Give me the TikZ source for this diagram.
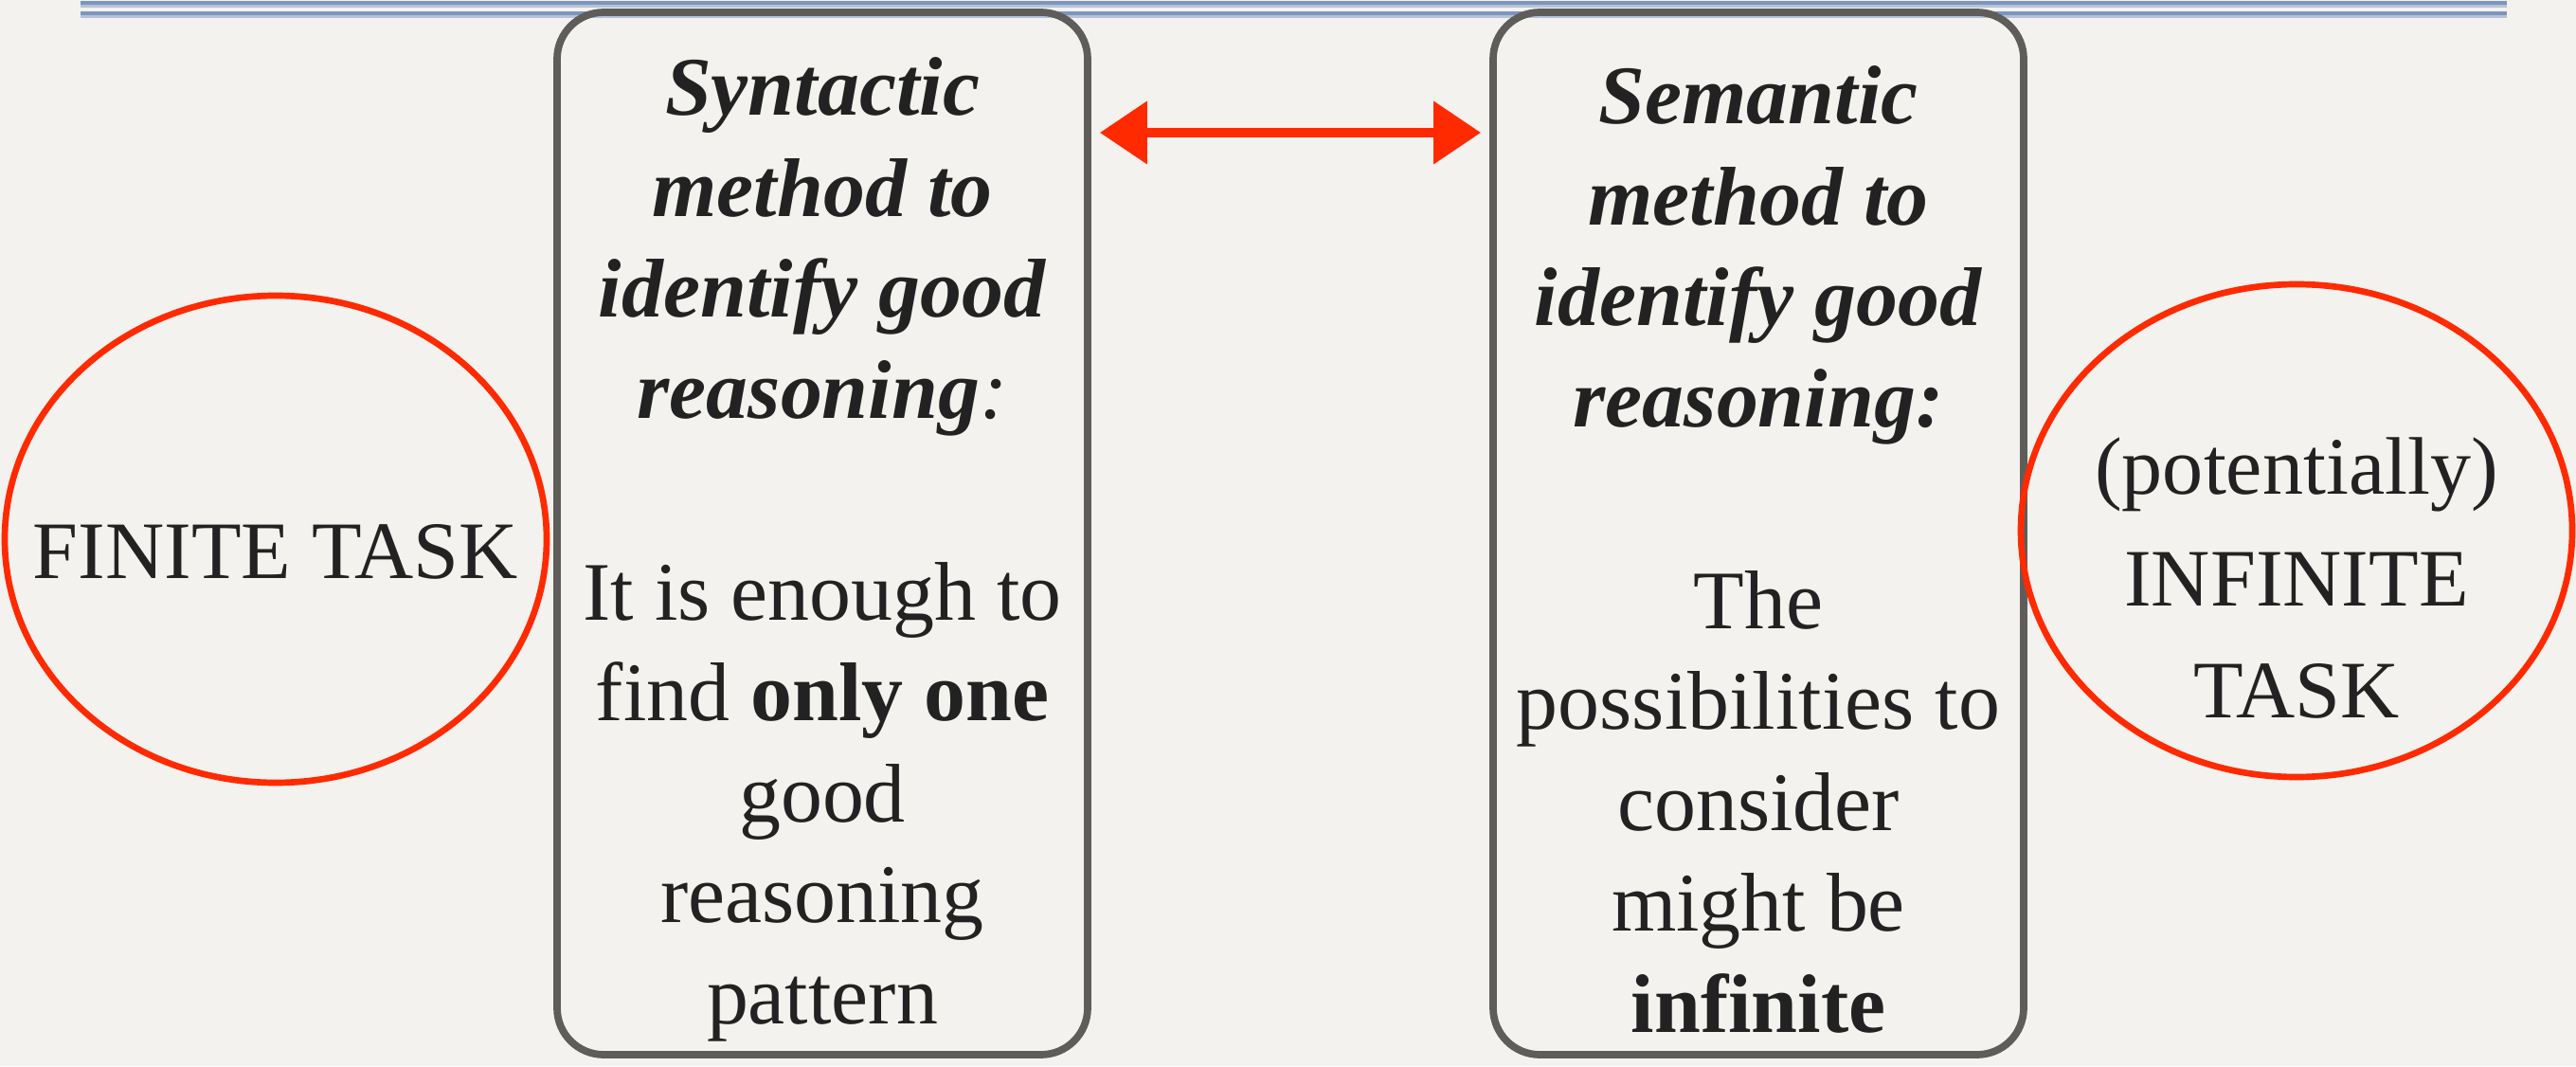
\documentclass[tikz,border=0pt]{standalone}
\usepackage{fontspec}
\setmainfont{Liberation Serif}
\usepackage{tikz}
\usetikzlibrary{arrows.meta,positioning,shapes.geometric}
\definecolor{Paper}{HTML}{F4F2EE}
\definecolor{RuleBlue}{HTML}{7D95BC}
\definecolor{RuleSoft}{HTML}{B4C2D8}
\definecolor{BoxGray}{HTML}{5E5D5A}
\definecolor{PenRed}{HTML}{FF2A00}
\definecolor{Ink}{HTML}{222222}

\begin{document}
\begin{tikzpicture}[
        font=\fontsize{25}{30.3}\selectfont,
        text=Ink,
        methodbox/.style={
            draw=BoxGray,
            line width=2.2pt,
            rounded corners=14pt,
            minimum width=5.6cm,
            minimum height=11cm,
            align=center,
            inner sep=0pt
        },
        taskring/.style={
            ellipse,
            draw=PenRed,
            line width=1.9pt,
            inner sep=0pt
        },
        tasktext/.style={align=center, font=\fontsize{24.5}{33.5}\selectfont},
        linkarr/.style={{Triangle[length=5mm,width=6.4mm]}-{Triangle[length=5mm,width=6.4mm]}, line width=3pt, draw=PenRed}
    ]
        \fill[Paper] (0,0) rectangle (27.19,11.25);
        \useasboundingbox (0,0) rectangle (27.19,11.25);

        % header rules
        \draw[RuleBlue, line width=1.3pt] (0.85,11.22) -- (26.46,11.22);
        \draw[RuleSoft, line width=0.6pt] (0.85,11.185) -- (26.46,11.185);
        \draw[RuleBlue, line width=1.3pt] (0.85,11.11) -- (26.46,11.11);
        \draw[RuleSoft, line width=0.6pt] (0.85,11.075) -- (26.46,11.075);

        \node[methodbox] (syn) at (8.68,5.62) {%
            \rule{0pt}{0.95cm}\textbf{\textit{Syntactic}}\\
            \textbf{\textit{method to}}\\
            \textbf{\textit{identify good}}\\
            \textbf{\textit{reasoning}}\textit{:}\\[30.3pt]
            It is enough to\\
            find \textbf{only one}\\
            good\\
            reasoning\\
            pattern};
        \node[methodbox] (sem) at (18.56,5.62) {%
            \rule{0pt}{0.95cm}\textbf{\textit{Semantic}}\\
            \textbf{\textit{method to}}\\
            \textbf{\textit{identify good}}\\
            \textbf{\textit{reasoning:}}\\[30.3pt]
            The\\
            possibilities to\\
            consider\\
            might be\\
            \textbf{infinite}};

        \node[taskring, minimum width=5.72cm, minimum height=5.14cm] (finring) at (2.91,5.56) {};
        \node[tasktext] (fin) at ([yshift=-0.13cm]finring.center) {FINITE TASK};

        \node[taskring, minimum width=5.82cm, minimum height=5.2cm] (infring) at (24.24,5.65) {};
        \node[tasktext] (inf) at ([yshift=-0.5cm]infring.center) {(potentially)\\INFINITE\\TASK};

        \draw[linkarr] ([xshift=0.09cm, yshift=4.23cm]syn.east) -- ([xshift=-0.09cm, yshift=4.23cm]sem.west);
    \end{tikzpicture}
\end{document}
